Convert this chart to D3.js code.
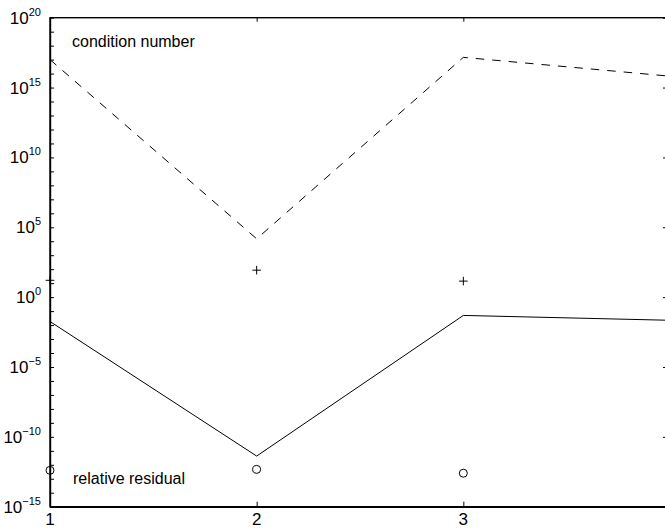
<!DOCTYPE html>
<html>
<head>
<meta charset="utf-8">
<script src="https://cdn.jsdelivr.net/npm/d3@7"></script>
<style>
    body { margin: 0; background: #fff; }
    svg { display: block; overflow: hidden; }
    text { font-family: "Liberation Sans", Arial, sans-serif; fill: #000; }
</style>
</head>
<body>
<svg id="chart" width="665" height="532"></svg>
<script>
// iterations (x positions)
var iterations = [1, 2, 3, 4];
// dashed line: condition number
var conditionNumber = [1.0e17, 1.5e4, 1.45e17, 6.5e15];
// solid line: relative residual
var relativeResidual = [1.8e-2, 4.2e-12, 4.9e-2, 2.2e-2];
// "+" markers and "o" markers at iterations 1..3
var plusIter = [1, 2, 3];
var plusValues = [16, 85, 14];
var circleIter = [1, 2, 3];
var circleValues = [4.0e-13, 4.7e-13, 2.5e-13];
// tick labels (the 4 falls past the picture's right edge)
var xTicks = [1, 2, 3, 4];
var xLabels = [1, 2, 3];
var yMajorExp = [-15, -10, -5, 0, 5, 10, 15, 20];
var yMinorExp = d3.range(-15, 21);

var svg = d3.select("svg#chart");
var margin = { top: 17.7, left: 50 };
var plotWidth = 620, plotHeight = 489;

var plot = svg.append("g")
    .attr("transform", "translate(" + margin.left + "," + margin.top + ")");

var xScale = d3.scaleLinear().domain([1, 4]).range([0, plotWidth]);
var yScale = d3.scaleLog().domain([1e-15, 1e20]).range([plotHeight, 0]);

// box
plot.append("rect")
    .attr("width", plotWidth).attr("height", plotHeight)
    .attr("fill", "none").attr("stroke", "#000").attr("stroke-width", 1.4);

// left axis: a tick at every decade, pointing inwards
plot.append("g")
    .call(d3.axisLeft(yScale)
        .tickValues(yMinorExp.map(function (e) { return Math.pow(10, e); }))
        .tickSize(-4).tickSizeOuter(0).tickFormat(""))
    .call(function (g) { g.select(".domain").attr("stroke-width", 1.4); });

// right side ticks only at labelled decades
plot.append("g")
    .attr("transform", "translate(" + plotWidth + ",0)")
    .call(d3.axisRight(yScale)
        .tickValues(yMajorExp.map(function (e) { return Math.pow(10, e); }))
        .tickSize(-7).tickSizeOuter(0).tickFormat(""))
    .call(function (g) { g.select(".domain").remove(); });

// bottom axis
plot.append("g")
    .attr("transform", "translate(0," + plotHeight + ")")
    .call(d3.axisBottom(xScale).tickValues(xTicks)
        .tickSize(-5).tickSizeOuter(0).tickFormat(""))
    .call(function (g) { g.select(".domain").attr("stroke-width", 1.4); });

// top ticks
plot.append("g")
    .call(d3.axisTop(xScale).tickValues(xTicks)
        .tickSize(-4).tickSizeOuter(0).tickFormat(""))
    .call(function (g) { g.select(".domain").remove(); });

// x tick labels
plot.selectAll("text.xlab")
    .data(xLabels)
    .enter().append("text")
    .attr("class", "xlab")
    .attr("x", function (d) { return xScale(d); })
    .attr("y", plotHeight + 18.5)
    .attr("text-anchor", "middle")
    .style("font-size", "17px")
    .text(function (d) { return d; });

// y tick labels, 10 with superscript exponent
var ylab = plot.selectAll("text.ylab")
    .data(yMajorExp)
    .enter().append("text")
    .attr("class", "ylab")
    .attr("x", -9)
    .attr("y", function (d) { return yScale(Math.pow(10, d)) + 6; })
    .attr("text-anchor", "end")
    .style("font-size", "17px");
ylab.append("tspan").text("10");
ylab.append("tspan")
    .attr("dy", -8)
    .style("font-size", "11px")
    .text(function (d) { return d < 0 ? "\u2212" + (-d) : d; });

// lines
var line = d3.line()
    .x(function (d) { return xScale(d[0]); })
    .y(function (d) { return yScale(d[1]); });

plot.append("path")
    .datum(d3.zip(iterations, conditionNumber))
    .attr("d", line)
    .attr("fill", "none").attr("stroke", "#000")
    .attr("stroke-width", 1).attr("stroke-dasharray", "8.5,8");

plot.append("path")
    .datum(d3.zip(iterations, relativeResidual))
    .attr("d", line)
    .attr("fill", "none").attr("stroke", "#000").attr("stroke-width", 1);

// + markers
plot.selectAll("path.plus")
    .data(d3.zip(plusIter, plusValues))
    .enter().append("path")
    .attr("class", "plus")
    .attr("d", function (d) {
        var cx = xScale(d[0]), cy = yScale(d[1]), s = 4.3;
        return "M" + (cx - s) + "," + cy + "H" + (cx + s) +
            "M" + cx + "," + (cy - s) + "V" + (cy + s);
    })
    .attr("stroke", "#000").attr("stroke-width", 1);

// o markers
plot.selectAll("circle.res")
    .data(d3.zip(circleIter, circleValues))
    .enter().append("circle")
    .attr("class", "res")
    .attr("cx", function (d) { return xScale(d[0]); })
    .attr("cy", function (d) { return yScale(d[1]); })
    .attr("r", 4)
    .attr("fill", "none").attr("stroke", "#000").attr("stroke-width", 1);

// annotations
svg.append("text")
    .attr("x", 72).attr("y", 46.7)
    .style("font-size", "16px")
    .text("condition number");
svg.append("text")
    .attr("x", 73).attr("y", 484)
    .style("font-size", "16px")
    .text("relative residual");
</script>
</body>
</html>
